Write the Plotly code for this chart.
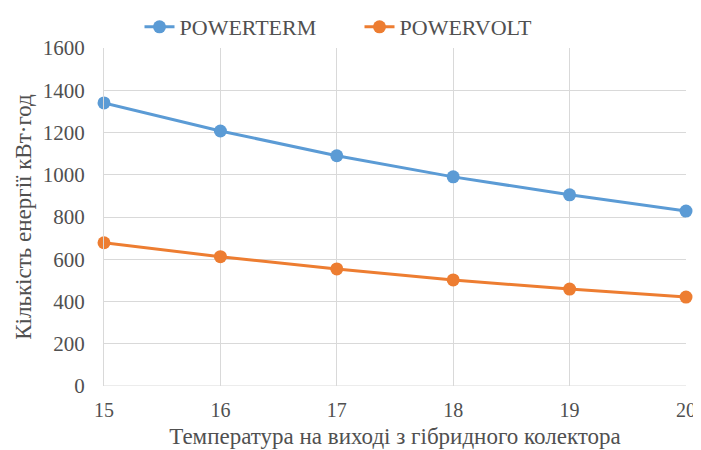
import plotly.graph_objects as go

temps = [15, 16, 17, 18, 19, 20]
powerterm = [1340, 1207, 1090, 990, 905, 828]
powervolt = [678, 612, 554, 502, 459, 421]
y_ticks = [0, 200, 400, 600, 800, 1000, 1200, 1400, 1600]

font_family = "Liberation Serif, Times New Roman, serif"

fig = go.Figure()
fig.add_trace(go.Scatter(x=temps, y=powerterm, mode="lines+markers", name="POWERTERM",
                         line=dict(color="#5B9BD5", width=3),
                         marker=dict(size=13, color="#5B9BD5")))
fig.add_trace(go.Scatter(x=temps, y=powervolt, mode="lines+markers", name="POWERVOLT",
                         line=dict(color="#ED7D31", width=3),
                         marker=dict(size=13, color="#ED7D31")))

# the page shows the figure offset by 8px (body margin); compensate in size/margins
fig.update_layout(
    width=693, height=442,
    margin=dict(l=96, r=15, t=40, b=64, autoexpand=False),
    paper_bgcolor="white", plot_bgcolor="white",
    font=dict(family=font_family, size=21, color="#505050"),
    legend=dict(orientation="h", x=0.061, xanchor="left", y=1.062, yanchor="middle",
                font=dict(size=22, color="#505050"), entrywidthmode="pixels",
                entrywidth=175),
    showlegend=True,
)
fig.update_xaxes(range=[15, 20], tickvals=temps, showgrid=True, gridcolor="#D9D9D9", gridwidth=1,
                 zeroline=False, showline=False, ticks="", ticklabelstandoff=10, automargin=False,
                 ticklabeloverflow="allow", tickfont=dict(size=20),
                 title=dict(text="Температура на виході з гібридного колектора", font=dict(size=23), standoff=7))
fig.update_yaxes(range=[0, 1600], tickvals=y_ticks, showgrid=True, gridcolor="#D9D9D9", gridwidth=1,
                 zeroline=False, showline=True, linecolor="#D9D9D9", ticks="", ticklabelstandoff=14,
                 automargin=False,
                 title=dict(text="Кількість енергії кВт·год", font=dict(size=23), standoff=4))
fig.add_shape(type="line", xref="paper", yref="y", x0=0, x1=1, y0=0, y1=0,
              line=dict(color="#D9D9D9", width=1))
fig.update_traces(cliponaxis=False)
fig.write_html("out.html")
